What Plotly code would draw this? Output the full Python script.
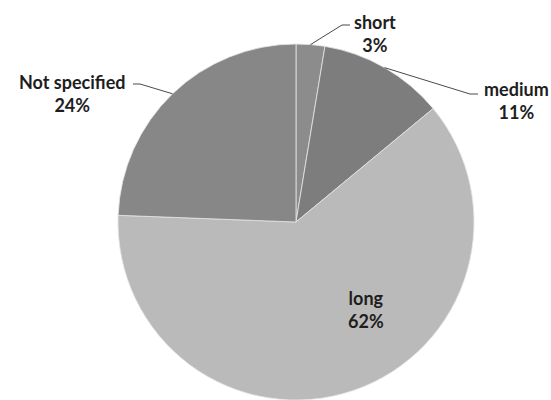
import math
import plotly.graph_objects as go

# ---- data ----
categories = ["short", "medium", "long", "Not specified"]
shares = [2.6, 11.4, 61.6, 24.4]
slice_colors = ["#8c8c8c", "#7d7d7d", "#bababa", "#878787"]

# ---- layout geometry ----
W, H = 551, 400
dom_x = [0.0744, 1.0]
dom_y = [0.0, 0.89]
cx = (dom_x[0] + dom_x[1]) / 2 * W
cy = (1 - (dom_y[0] + dom_y[1]) / 2) * H
r = min((dom_x[1] - dom_x[0]) * W, (dom_y[1] - dom_y[0]) * H) / 2

total = sum(shares)
mids = []
acc = 0.0
for v in shares:
    mids.append((acc + v / 2) / total * 360.0)
    acc += v


def rim(angle_deg):
    a = math.radians(angle_deg)
    return cx + r * math.sin(a), cy - r * math.cos(a)


def px2paper(x, y):
    return x / W, 1 - y / H


# label placement (pixels): text centre, leader elbow, leader end
label_layout = {
    "short": dict(text=(374.5, 33), elbow=(342, 25), end=(350, 25)),
    "medium": dict(text=(516, 101), elbow=(470, 94), end=(478, 94)),
    "Not specified": dict(text=(71.5, 93), elbow=(140, 84), end=(133, 84)),
    "long": dict(text=(366, 309)),
}

fig = go.Figure(
    go.Pie(
        labels=categories,
        values=shares,
        sort=False,
        direction="clockwise",
        rotation=0,
        marker=dict(colors=slice_colors, line=dict(color="#e6e6e6", width=0.8)),
        textinfo="none",
        hoverinfo="none",
        domain=dict(x=dom_x, y=dom_y),
        showlegend=False,
    )
)

font = dict(family="Lato, 'Open Sans', sans-serif", size=18, color="#1e1e1e")
annotations = []
shapes = []
for cat, v, mid in zip(categories, shares, mids):
    spec = label_layout[cat]
    txt = f"<b>{cat}</b><br><b>{v / total:.0%}</b>"
    tx, ty = px2paper(*spec["text"])
    annotations.append(
        dict(
            x=tx, y=ty, xref="paper", yref="paper", text=txt, showarrow=False,
            xanchor="center", yanchor="middle", align="center", font=font,
        )
    )
    if "elbow" in spec:
        p0 = px2paper(*rim(mid))
        p1 = px2paper(*spec["elbow"])
        p2 = px2paper(*spec["end"])
        shapes.append(
            dict(
                type="path", xref="paper", yref="paper",
                path=f"M {p0[0]},{p0[1]} L {p1[0]},{p1[1]} L {p2[0]},{p2[1]}",
                line=dict(color="#4a4a4a", width=1),
            )
        )

fig.update_layout(
    width=W,
    height=H,
    margin=dict(l=0, r=0, t=0, b=0),
    paper_bgcolor="white",
    plot_bgcolor="white",
    annotations=annotations,
    shapes=shapes,
)

fig.write_html("out.html")
